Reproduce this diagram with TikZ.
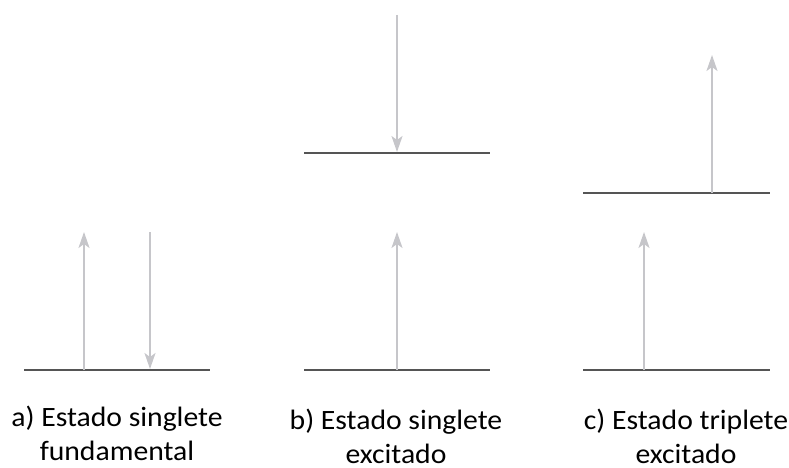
\documentclass[tikz,border=0pt]{standalone}
\usepackage{fontspec}
\setmainfont{Carlito}[FakeStretch=1.06]
\usetikzlibrary{arrows.meta}
\definecolor{levelgray}{HTML}{555555}
\definecolor{spingray}{HTML}{C6C6CA}

\begin{document}
\begin{tikzpicture}[x=1pt, y=-1pt,
    level/.style={line width=2pt, levelgray},
    spin/.style={line width=2pt, spingray, -{Stealth[length=16pt, width=11pt, inset=4pt]}},
    caption/.style={align=center, anchor=base, inner ysep=0pt, text depth=0pt, font=\fontsize{28}{34}\selectfont}]
    \useasboundingbox (0,0) rectangle (789,468);
    % energy levels
    \draw[level] (24,370) coordinate (aL) -- (210,370) coordinate (aR);
    \draw[level] (304,370) coordinate (bL) -- (490,370) coordinate (bR);
    \draw[level] (304,153) coordinate (bUL) -- (490,153) coordinate (bUR);
    \draw[level] (583,370) coordinate (cL) -- (770,370) coordinate (cR);
    \draw[level] (583,193) coordinate (cUL) -- (770,193) coordinate (cUR);
    % electron spins
    \coordinate (a1) at (84,370);   \coordinate (a1top) at (84,232);
    \coordinate (a2) at (150,369);  \coordinate (a2top) at (150,232);
    \coordinate (b1) at (397,370);  \coordinate (b1top) at (397,232);
    \coordinate (b2) at (397,152);  \coordinate (b2top) at (397,15);
    \coordinate (c1) at (644,370);  \coordinate (c1top) at (644,232);
    \coordinate (c2) at (712,193);  \coordinate (c2top) at (712,55);
    \draw[spin] (a1) -- (a1top);
    \draw[spin] (a2top) -- (a2);
    \draw[spin] (b1) -- (b1top);
    \draw[spin] (b2top) -- (b2);
    \draw[spin] (c1) -- (c1top);
    \draw[spin] (c2) -- (c2top);
    % captions (base = last line)
    \node[caption] (capA) at (117,460) {a) Estado singlete\\fundamental};
    \node[caption] (capB) at (396,463) {b) Estado singlete\\excitado};
    \node[caption] (capC) at (686,463) {c) Estado triplete\\excitado};
\end{tikzpicture}
\end{document}
